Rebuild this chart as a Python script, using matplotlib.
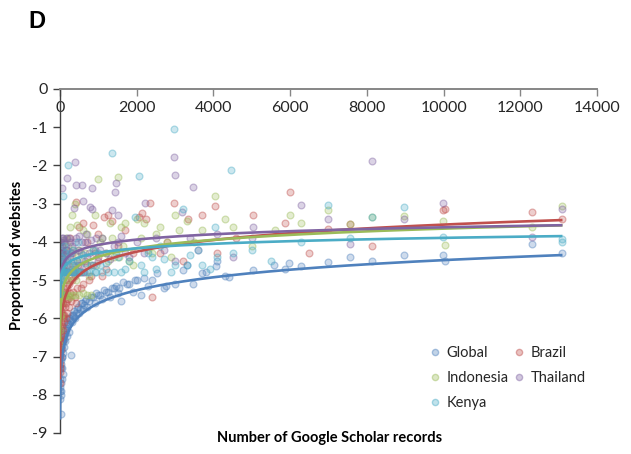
import numpy as np
import matplotlib
matplotlib.use("Agg")
import matplotlib.pyplot as plt
from matplotlib.lines import Line2D
from matplotlib.colors import to_rgba

# ---------------- data ----------------
series_names = ["Global", "Brazil", "Indonesia", "Thailand", "Kenya"]
series_colors = ["#4F81BD", "#C0504D", "#9BBB59", "#8064A2", "#4BACC6"]

global_x = [3, 8, 12, 15, 18, 25, 28, 35, 40, 45, 50, 60, 70, 80, 90, 100, 120, 140, 160, 180,
            200, 230, 260, 290, 320, 350, 400, 450, 500, 550, 600, 650, 700, 800, 900, 1000,
            1100, 1200, 1300, 1400, 1500, 1600, 1750, 1900, 2000, 2100, 2300, 2520, 2700, 2755,
            2998, 3215, 3300, 3476, 3690, 3800, 4058, 4100, 4310, 4415, 5030, 5580, 5870, 5975,
            6275, 6980, 7560, 8135, 8970, 9980, 10050, 12300, 13100,
            5, 10, 20, 30, 55, 65, 75, 85, 95, 110, 130, 150, 170, 190, 210, 240, 270, 300, 330, 370,
            420, 470, 520, 580, 630, 680, 750, 850, 950, 1050, 1150, 1250, 1350, 1450, 1550, 1650,
            1800, 1950, 2200, 2400]
global_y = [-7.8, -8.1, -7.3, -8.5, -7.7, -8.0, -7.2, -7.9, -7.6, -7.0, -7.3, -7.0, -7.45, -6.9, -6.6, -6.75, -6.4, -6.6, -6.3, -6.45,
            -6.15, -6.35, -6.0, -6.95, -6.1, -5.9, -6.0, -5.75, -5.85, -5.6, -5.75, -5.55, -5.7, -5.45, -5.6, -5.4,
            -5.5, -5.3, -5.45, -5.2, -5.35, -5.55, -5.1, -5.3, -5.0, -5.4, -5.15, -4.82, -5.2, -5.15,
            -5.1, -4.74, -4.6, -5.1, -4.82, -4.8, -4.63, -4.5, -4.89, -4.92, -4.74, -4.6, -4.71, -4.54,
            -4.63, -4.53, -4.4, -4.5, -4.35, -4.35, -4.5, -4.06, -4.3,
            -7.9, -7.6, -7.3, -7.1, -6.8, -6.7, -6.6, -6.5, -6.55, -6.4, -6.3, -6.25, -6.2, -6.1, -6.15, -6.0, -6.05, -5.9, -5.95, -5.8,
            -5.85, -5.7, -5.75, -5.6, -5.65, -5.5, -5.55, -5.45, -5.35, -5.4, -5.25, -5.3, -5.2, -5.15, -5.2, -5.05,
            -5.1, -5.0, -4.95, -5.0]

brazil_x = [1, 3, 5, 8, 12, 15, 20, 25, 30, 40, 50, 60, 70, 80, 90, 100, 120, 140, 160, 180,
            200, 230, 260, 300, 350, 400, 450, 500, 600, 700, 800, 1000, 1200,
            150, 250, 300, 420, 500, 600, 700, 850, 1000, 1150, 1250, 1350, 1500, 1700, 1900,
            2050, 2150, 2250, 2346, 2390, 2600, 2800, 2972, 3200, 3350, 3700, 4050, 4100, 4600,
            5030, 5870, 5995, 6500, 6980, 7560, 8135, 9980, 10050, 12300, 13100,
            2, 4, 6, 10, 18, 22, 35, 45, 55, 65, 75, 85, 95, 110, 130, 150, 170, 190, 210, 240,
            280, 320, 380, 420, 480, 550, 650, 750, 900, 1100]
brazil_y = [-7.7, -7.3, -7.0, -6.6, -6.9, -6.3, -6.6, -6.1, -6.4, -5.9, -6.2, -5.7, -6.0, -5.6, -5.9, -5.4, -5.7, -5.3, -5.6, -5.2,
            -5.5, -5.1, -5.35, -5.0, -5.3, -4.9, -5.2, -4.8, -5.1, -4.6, -4.9, -4.4, -4.7,
            -4.2, -3.9, -4.3, -2.95, -3.6, -3.5, -4.0, -3.55, -3.8, -3.35, -3.3, -3.45, -4.1, -3.7, -4.3,
            -3.35, -3.25, -3.4, -2.99, -5.44, -4.3, -4.0, -2.97, -4.5, -3.4, -3.3, -3.07, -4.3, -3.9,
            -3.3, -3.5, -2.7, -4.3, -3.65, -3.52, -4.1, -3.17, -3.13, -3.22, -3.41,
            -7.2, -6.8, -7.4, -6.2, -6.8, -5.8, -6.5, -5.6, -6.6, -5.4, -6.3, -5.2, -6.1, -5.9, -5.0, -6.0, -5.5, -5.85, -5.0, -5.7,
            -5.55, -4.7, -5.45, -5.6, -4.6, -5.2, -4.5, -5.0, -4.3, -4.9]

indonesia_x = [1, 2, 5, 10, 15, 20, 30, 40, 60, 80, 100, 150, 200, 250, 300, 400, 500, 600, 700, 800,
               50, 100, 150, 200, 250, 300, 350, 400, 450, 500, 600, 700, 800, 900, 1000, 1100, 1200,
               1300, 1400, 1500, 1600, 1700, 1800, 2000, 2200, 2400, 2600, 2800, 3000, 3300, 3700,
               4050, 4300, 4500, 5000, 5600, 6000, 6275, 6980, 7560, 8135, 8970, 9980, 10050, 12300, 13100,
               3, 7, 12, 25, 35, 45, 55, 70, 90, 120, 130, 170, 220, 280, 330, 380, 430, 480, 550, 650,
               750, 850, 950, 1050, 1250, 1350, 1550, 1650, 1900, 2100, 2300, 2500, 2900, 3100, 3500]
indonesia_y = [-6.7, -6.3, -6.0, -5.6, -5.9, -5.4, -5.6, -5.4, -5.4, -5.45, -5.4, -5.4, -5.4, -5.45, -5.4, -5.4, -5.4, -5.35, -5.4, -5.4,
               -4.3, -4.0, -3.9, -4.1, -3.6, -3.3, -4.5, -3.0, -3.55, -4.2, -3.7, -3.8, -4.6, -3.3, -2.35, -3.9, -4.3,
               -3.5, -4.4, -2.3, -3.6, -3.5, -4.5, -3.4, -3.5, -4.3, -3.6, -4.0, -3.3, -3.45, -3.7,
               -2.8, -3.4, -3.6, -4.1, -3.7, -3.3, -3.5, -3.17, -3.52, -3.35, -3.32, -3.46, -4.08, -3.6, -3.05,
               -5.4, -5.4, -5.1, -5.4, -4.9, -5.4, -4.5, -5.4, -4.7, -5.4, -4.4, -5.0, -4.6, -4.9, -4.2, -4.7, -5.0, -4.4, -4.8, -4.3,
               -4.9, -4.2, -4.6, -4.0, -4.5, -3.9, -4.4, -4.1, -4.6, -3.9, -4.2, -3.8, -4.4, -3.7, -4.0]

thailand_x = [1, 3, 5, 8, 10, 15, 20, 25, 30, 40, 50, 60, 70, 80, 100, 120, 140, 160, 180, 200,
              230, 260, 300, 350, 400, 450, 500, 550, 600, 650, 700, 800, 900, 1000, 1100, 1200,
              1400, 1600, 1800, 2000, 2200, 2500, 2700, 3000, 3400, 3600, 4100, 4500, 5000,
              60, 174, 390, 410, 583, 843, 373, 600, 825, 782, 1347, 1460, 1434, 1500, 2216, 2972,
              2990, 3190, 3476, 5023, 6275, 6980, 7560, 8135, 8970, 9980, 12300, 13100,
              2, 4, 6, 12, 18, 22, 35, 45, 55, 65, 75, 90, 110, 130, 150, 170, 190, 210, 250, 280,
              330, 370, 420, 470, 530, 580, 630, 680, 750, 850, 950, 1050, 1300, 1500, 1700]
thailand_y = [-4.8, -4.5, -4.3, -4.8, -4.1, -4.6, -4.0, -4.8, -4.4, -3.9, -4.8, -4.2, -4.5, -3.95, -4.8, -4.3, -4.05, -4.6, -4.2, -4.8,
              -3.9, -4.4, -4.1, -4.8, -4.0, -4.5, -3.85, -4.3, -4.8, -4.0, -4.4, -3.95, -4.2, -4.5, -3.9, -4.3,
              -4.1, -3.85, -4.4, -4.0, -4.3, -3.9, -4.2, -4.5, -3.9, -4.2, -3.8, -4.4, -3.9,
              -2.58, -2.32, -1.92, -2.51, -2.51, -2.58, -3.12, -2.93, -3.13, -3.1, -3.17, -2.47, -2.7, -3.3, -2.99, -1.77,
              -2.25, -3.21, -2.56, -3.6, -3.04, -3.4, -4.06, -1.89, -3.4, -2.99, -3.87, -3.14,
              -4.8, -4.2, -4.0, -4.8, -4.3, -4.6, -4.8, -4.1, -4.4, -4.8, -3.9, -4.3, -4.6, -4.8, -4.2, -3.9, -4.45, -4.8, -4.0, -4.3,
              -4.6, -4.8, -3.9, -4.2, -4.6, -4.0, -4.8, -3.8, -4.3, -4.6, -3.9, -4.2, -4.45, -4.0, -4.3]

kenya_x = [1, 3, 5, 8, 10, 15, 20, 30, 40, 50, 70, 80, 100, 130, 160, 217, 250, 300, 350, 400,
           450, 500, 600, 700, 800, 900, 1000, 1100, 1200, 1364, 1400, 1500, 1700, 1950, 2050,
           2100, 2300, 2500, 2700, 2980, 3000, 3200, 3400, 3700, 4050, 4100, 4450, 4500, 5000,
           5500, 6275, 6980, 7560, 8135, 8970, 9980, 13100, 13100,
           2, 4, 6, 12, 18, 25, 35, 45, 60, 90, 110, 140, 180, 200, 270, 320, 380, 430, 480, 550,
           650, 750, 850, 950, 1050, 1250, 1450, 1600, 1800, 2200, 2400, 2600, 2900, 3300, 3600, 3900]
kenya_y = [-5.3, -5.0, -5.2, -4.8, -5.1, -4.8, -4.6, -4.8, -5.0, -4.8, -2.8, -4.5, -4.8, -4.3, -4.8, -2.0, -4.6, -4.8, -4.2, -4.8,
           -4.5, -4.8, -4.35, -4.8, -4.6, -4.8, -4.3, -4.8, -4.55, -1.67, -4.8, -4.4, -4.7, -3.35, -2.27,
           -4.6, -4.3, -4.7, -4.45, -1.05, -4.6, -3.15, -4.35, -4.6, -3.6, -4.4, -2.12, -4.3, -4.2,
           -4.5, -4.0, -3.04, -3.9, -3.35, -3.09, -3.87, -3.93, -4.0,
           -5.1, -4.8, -4.6, -4.8, -5.0, -4.8, -4.4, -4.8, -4.6, -4.8, -4.1, -4.8, -4.5, -4.8, -4.3, -4.8, -4.6, -4.8, -4.0, -4.8,
           -4.55, -4.8, -4.2, -4.8, -4.6, -4.8, -4.3, -4.8, -4.5, -4.8, -4.4, -4.1, -4.8, -4.6, -4.2, -4.7]

# logarithmic trendline coefficients (y = slope * ln(x) + intercept)
trend_slope = [0.49, 0.44, 0.32, 0.20, 0.17]
trend_intercept = [-8.99, -7.60, -6.60, -5.46, -5.46]
trend_xstart = [2, 1, 1, 1, 1]
trend_xend = [13100, 13100, 13100, 13100, 13100]

x_ticks = [0, 2000, 4000, 6000, 8000, 10000, 12000, 14000]
y_ticks = [0, -1, -2, -3, -4, -5, -6, -7, -8, -9]

all_x = [global_x, brazil_x, indonesia_x, thailand_x, kenya_x]
all_y = [global_y, brazil_y, indonesia_y, thailand_y, kenya_y]

# ---------------- figure ----------------
plt.rcParams['font.family'] = ['Lato', 'DejaVu Sans']
fig = plt.figure(figsize=(6.31, 4.54), dpi=100)
ax = fig.add_axes([60 / 631, 1 - 433 / 454, (597 - 60) / 631, (433 - 89) / 454])

handles = {}
for name, col, xs, ys in zip(series_names, series_colors, all_x, all_y):
    ax.scatter(xs, ys, s=24, facecolor=to_rgba(col, 0.28),
               edgecolor=to_rgba(col, 0.42), linewidth=0.9, zorder=2)
    handles[name] = Line2D([], [], marker='o', linestyle='none', markersize=4.5,
                           markerfacecolor=to_rgba(col, 0.35),
                           markeredgecolor=to_rgba(col, 0.45))

for col, a, b, x0, x1 in zip(series_colors, trend_slope, trend_intercept, trend_xstart, trend_xend):
    xf = np.geomspace(x0, x1, 500)
    ax.plot(xf, a * np.log(xf) + b, color=col, lw=1.9, zorder=3, solid_capstyle='butt')

ax.set_xlim(0, 14000)
ax.set_ylim(-9, 0)
ax.set_xticks(x_ticks)
ax.set_yticks(y_ticks)
ax.set_xticklabels([str(t) for t in x_ticks])
ax.set_yticklabels([str(t) for t in y_ticks])

for s in ['top', 'right']:
    ax.spines[s].set_visible(False)
ax.spines['bottom'].set_position(('data', 0))
ax.spines['bottom'].set_color('#868686')
ax.spines['bottom'].set_linewidth(1.4)
ax.spines['left'].set_color('#404040')
ax.spines['left'].set_linewidth(1.0)

ax.tick_params(axis='x', direction='out', length=5, width=1.0, color='#868686',
               labelsize=11.5, labelcolor='#262626', pad=4)
ax.tick_params(axis='y', direction='out', length=5, width=1.0, color='#404040',
               labelsize=11.5, labelcolor='#262626', pad=4)

fig.text(330 / 631, 1 - 438 / 454, "Number of Google Scholar records", ha='center', va='center',
         fontsize=10.5, fontweight='bold', color='black')
fig.text(17 / 631, 1 - 255 / 454, "Proportion of websites", ha='center', va='center',
         rotation=90, fontsize=10.5, fontweight='bold', color='black')
fig.text(28 / 631, 1 - 22 / 454, "D", ha='left', va='center', fontsize=17,
         fontweight='bold', family='Liberation Sans', color='black')

order = ["Global", "Indonesia", "Kenya", "Brazil", "Thailand"]
leg = fig.legend([handles[n] for n in order], order, ncol=2, frameon=False,
                 loc='upper left', bbox_to_anchor=(425 / 631, 1 - 340 / 454),
                 fontsize=10.5, handlelength=0.6, handletextpad=0.5,
                 columnspacing=0.4, labelspacing=0.75, borderaxespad=0)
for t in leg.get_texts():
    t.set_color('#262626')

fig.savefig("out.png", dpi=100)
